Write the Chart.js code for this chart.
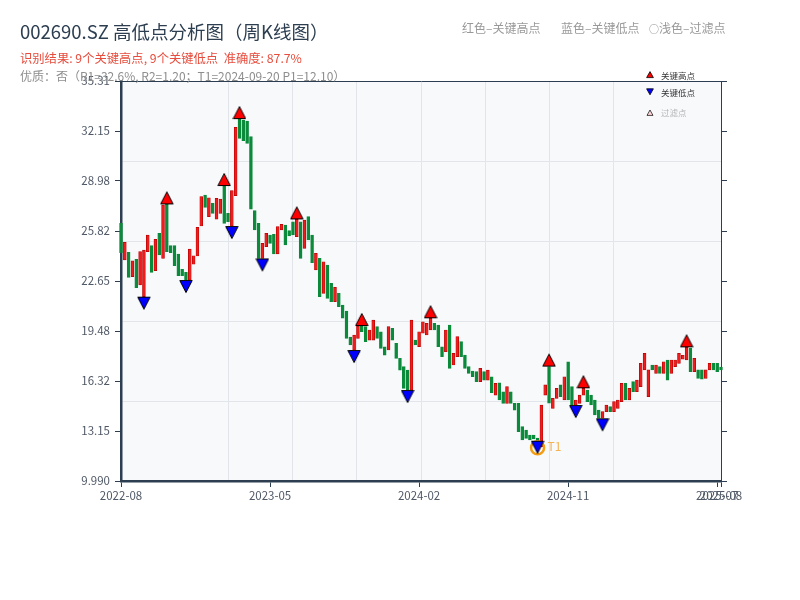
<!DOCTYPE html>
<html><head><meta charset="utf-8">
<script src="https://cdn.jsdelivr.net/npm/chart.js@4.4.1/dist/chart.umd.min.js"></script>
<style>
html,body{margin:0;padding:0;background:#fff;}
#wrap{position:relative;width:800px;height:600px;font-family:"Noto Sans CJK SC","Noto Sans",sans-serif;}
#c{position:absolute;left:0;top:0;}
.t{position:absolute;white-space:pre;line-height:1;}
.lg svg{position:absolute;}
</style></head><body>
<div id="wrap">
<canvas id="c" width="800" height="600"></canvas>
<div class="t" style="left:20px;top:22px;font-size:18.5px;color:#2c3e50">002690.SZ 高低点分析图（周K线图）</div>
<div class="t" style="left:20px;top:52px;font-size:12.3px;color:#e74c3c">识别结果: 9个关键高点, 9个关键低点  准确度: 87.7%</div>
<div class="t" style="left:20px;top:70px;font-size:12px;color:#8e8e8e">优质：否（R1=32.6%, R2=1.20；T1=2024-09-20 P1=12.10）</div>
<div class="t" style="left:462px;top:22px;font-size:12px;color:#999">红色–关键高点</div>
<div class="t" style="left:561px;top:22px;font-size:12px;color:#999">蓝色–关键低点</div>
<div class="t" style="left:649px;top:22px;font-size:12px;color:#999"><span style="font-size:10px">○</span>浅色–过滤点</div>
<div class="lg">
<svg style="left:646px;top:71px" width="8" height="8"><polygon points="4,0.6 7.4,6.6 0.6,6.6" fill="#ff0000" stroke="#000" stroke-width="0.8"/></svg>
<svg style="left:646px;top:88px" width="8" height="8"><polygon points="0.6,0.8 7.4,0.8 4,6.8" fill="#0000ff" stroke="#000" stroke-width="0.8"/></svg>
<svg style="left:646px;top:108.5px" width="8" height="8"><polygon points="4,1 7,6.4 1,6.4" fill="#ffd6d6" stroke="#000" stroke-width="0.7"/></svg>
</div>
<div class="t" style="left:661px;top:70.5px;font-size:8.5px;color:#333">关键高点</div>
<div class="t" style="left:661px;top:88px;font-size:8.5px;color:#333">关键低点</div>
<div class="t" style="left:661px;top:107.5px;font-size:8.5px;color:#b5b5b5">过滤点</div>
</div>
<script>
// ---- data ----
const opens = [
26.30, 23.98, 24.46, 22.92, 24.02, 22.40, 21.66, 24.51, 24.89, 23.30,
25.67, 24.08, 27.50, 24.89, 24.89, 24.36, 23.39, 23.20, 22.71, 23.71,
24.23, 26.13, 28.09, 26.72, 27.57, 26.57, 26.93, 28.66, 26.93, 26.13,
28.05, 32.90, 32.84, 32.78, 31.79, 27.10, 26.30, 24.08, 24.82, 25.56,
25.60, 24.36, 25.88, 26.19, 25.84, 26.40, 25.46, 26.40, 24.72, 26.72,
25.56, 23.35, 24.08, 21.87, 23.66, 22.50, 21.34, 21.87, 21.13, 20.75,
19.10, 18.28, 19.02, 19.80, 19.76, 18.91, 18.91, 19.76, 19.44, 18.49,
18.28, 19.65, 18.70, 17.75, 17.23, 17.01, 15.75, 18.91, 18.49, 19.34,
19.23, 19.55, 19.97, 19.86, 18.49, 18.17, 19.86, 17.33, 17.86, 18.81,
17.96, 17.23, 16.95, 16.91, 16.28, 16.91, 16.38, 16.59, 15.43, 16.21,
15.64, 14.90, 15.64, 14.90, 14.91, 13.43, 13.22, 12.90, 12.90, 12.70,
12.16, 15.43, 17.23, 14.59, 15.22, 16.07, 15.12, 17.54, 15.96, 14.80,
14.90, 15.43, 15.75, 15.43, 15.12, 14.48, 13.96, 14.38, 14.70, 14.38,
14.59, 15.01, 16.17, 15.12, 16.28, 15.64, 15.96, 17.02, 15.33, 17.33,
16.80, 17.23, 16.80, 17.65, 16.80, 17.23, 17.44, 17.70, 17.65, 18.39,
16.91, 17.02, 17.02, 16.49, 17.02, 17.44, 17.44, 17.20
];
const closes = [
24.44, 25.10, 22.88, 23.92, 22.23, 24.51, 24.61, 25.56, 23.20, 25.29,
24.30, 27.46, 24.51, 24.44, 23.62, 22.99, 22.99, 22.71, 24.67, 24.25,
26.05, 28.00, 27.31, 27.92, 26.93, 27.88, 27.84, 26.30, 26.40, 28.37,
32.38, 31.68, 31.53, 31.36, 27.19, 25.88, 24.08, 25.03, 25.67, 25.03,
24.36, 26.09, 26.24, 24.93, 25.50, 25.56, 26.55, 24.08, 26.51, 25.25,
23.81, 24.40, 21.66, 23.87, 21.55, 21.34, 22.25, 21.02, 20.29, 19.02,
18.60, 19.23, 19.80, 19.44, 18.81, 19.55, 20.18, 19.02, 18.38, 17.96,
19.76, 18.91, 17.75, 17.01, 15.85, 15.75, 20.18, 18.60, 19.44, 20.07,
19.97, 20.29, 19.55, 18.49, 17.86, 19.55, 17.12, 18.07, 19.13, 17.86,
17.12, 16.80, 16.60, 16.28, 17.12, 16.38, 17.01, 15.58, 16.17, 15.12,
14.90, 15.96, 14.90, 14.48, 13.11, 12.59, 12.69, 12.59, 12.65, 12.54,
14.80, 16.07, 14.91, 15.22, 15.86, 15.33, 16.59, 15.12, 14.80, 15.12,
15.43, 15.86, 15.01, 14.80, 14.17, 13.96, 14.38, 14.80, 14.38, 15.01,
15.12, 16.17, 15.12, 15.86, 15.64, 16.38, 17.44, 18.07, 17.02, 17.02,
17.33, 16.80, 17.54, 16.38, 17.65, 17.65, 18.07, 17.95, 18.45, 16.91,
17.75, 16.49, 16.43, 17.02, 17.44, 17.02, 16.91, 17.02
];
const highIdx = [12, 27, 31, 46, 63, 81, 112, 121, 148];
const lowIdx  = [6, 17, 29, 37, 61, 75, 109, 119, 126];
const t1Idx = 109;
const p1 = 12.10;
const xTickIdx = [0, 39, 78, 117, 156, 157];
const xTickLabels = ['2022-08', '2023-05', '2024-02', '2024-11', '2025-07', '2025-08'];
const yTickValues = [9.99, 13.155, 16.32, 19.485, 22.65, 25.815, 28.98, 32.145, 35.31];
const yTickLabels = ['9.990', '13.15', '16.32', '19.48', '22.65', '25.82', '28.98', '32.15', '35.31'];

// ---- styles ----
const AX = '#2c3e50';
const UP_FILL = '#ee1c1c', UP_EDGE = '#b80000';
const DN_FILL = '#0a8a3a', DN_EDGE = '#0a8a3a';
const FONT = '"Noto Sans CJK SC", sans-serif';
const GRID = '#e2e6eb';

function mkTri(fill, up) {
  const c = document.createElement('canvas');
  c.width = 14; c.height = 30;
  const g = c.getContext('2d');
  g.beginPath();
  if (up) { g.moveTo(7, 2.5); g.lineTo(13.2, 14.5); g.lineTo(0.8, 14.5); }
  else { g.moveTo(0.8, 15.5); g.lineTo(13.2, 15.5); g.lineTo(7, 27.5); }
  g.closePath();
  g.fillStyle = fill; g.fill();
  g.lineWidth = 1; g.strokeStyle = '#000'; g.stroke();
  return c;
}
const upImg = mkTri('#ff0000', true);
const dnImg = mkTri('#0000ff', false);

const candleData = opens.map((o, i) => ({ x: i, y: [o, closes[i]] }));
const isUp = opens.map((o, i) => closes[i] >= o);

const bgPlugin = {
  id: 'bg',
  beforeDraw(chart) {
    const a = chart.chartArea, g = chart.ctx;
    g.save(); g.fillStyle = '#f7f9fb';
    g.fillRect(a.left, a.top, a.right - a.left, a.bottom - a.top);
    g.restore();
  },
  afterDatasetsDraw(chart) {
    const meta = chart.getDatasetMeta(3);
    const pt = meta.data[0];
    if (!pt) return;
    const g = chart.ctx;
    g.save();
    g.font = '12px ' + FONT;
    g.fillStyle = '#f6b352';
    g.textBaseline = 'middle';
    g.fillText('T1', pt.x + 10, pt.y - 1);
    g.restore();
  }
};

new Chart(document.getElementById('c'), {
  type: 'bar',
  data: {
    datasets: [
      {
        type: 'bar', label: 'K', data: candleData,
        backgroundColor: isUp.map(u => u ? UP_FILL : DN_FILL),
        borderColor: isUp.map(u => u ? UP_EDGE : DN_EDGE),
        borderWidth: 0.7, borderSkipped: false,
        barThickness: 2.9, minBarLength: 1.5, order: 3, clip: false
      },
      {
        type: 'scatter', label: '关键高点',
        data: highIdx.map(i => ({ x: i, y: Math.max(opens[i], closes[i]) })),
        pointStyle: upImg, pointRadius: 7, order: 1
      },
      {
        type: 'scatter', label: '关键低点',
        data: lowIdx.map(i => ({ x: i, y: Math.min(opens[i], closes[i]) })),
        pointStyle: dnImg, pointRadius: 7, order: 1
      },
      {
        type: 'scatter', label: 'T1',
        data: [{ x: t1Idx, y: p1 }],
        pointStyle: 'circle', pointRadius: 6.5, borderWidth: 2.5,
        borderColor: '#f39c12', backgroundColor: 'rgba(0,0,0,0)', order: 2
      }
    ]
  },
  options: {
    responsive: false, animation: false,
    layout: { padding: { left: 0, right: 79, top: 81, bottom: 0 } },
    plugins: { legend: { display: false }, tooltip: { enabled: false }, title: { display: false } },
    scales: {
      x: {
        type: 'linear', position: 'bottom', min: 0, max: 157, offset: false,
        afterBuildTicks: s => { s.ticks = xTickIdx.map(v => ({ value: v })); },
        afterFit: s => { s.height = 119; },
        ticks: { autoSkip: false, maxRotation: 0, color: '#4f5866', padding: 2,
                 font: { size: 11.5, family: FONT },
                 callback: (v, i) => xTickLabels[i] },
        grid: { display: true, offset: false, drawOnChartArea: false, drawTicks: true, tickLength: 6, tickColor: AX, tickWidth: 1, color: AX },
        border: { display: true, color: AX, width: 2.5 }
      },
      y: {
        type: 'linear', position: 'left', min: 9.99, max: 35.31,
        afterBuildTicks: s => { s.ticks = yTickValues.map(v => ({ value: v })); },
        afterFit: s => { s.width = 121; },
        ticks: { color: '#4f5866', padding: 5,
                 font: { size: 11.5, family: FONT },
                 callback: (v, i) => yTickLabels[i] },
        grid: { display: true, offset: false, drawOnChartArea: false, drawTicks: true, tickLength: 6, tickColor: AX, tickWidth: 1, color: AX },
        border: { display: true, color: AX, width: 2.5 }
      },
      yR: {
        type: 'linear', position: 'right', min: 9.99, max: 35.31,
        afterBuildTicks: s => { s.ticks = yTickValues.map(v => ({ value: v })); },
        afterFit: s => { s.width = 0; },
        ticks: { display: false },
        grid: { display: true, offset: false, drawOnChartArea: false, drawTicks: true, tickLength: 6, tickColor: AX, tickWidth: 1, color: AX },
        border: { display: true, color: AX, width: 1 }
      },
      gx: {
        type: 'linear', position: 'top', min: 0, max: 8,
        afterBuildTicks: s => { s.ticks = [1, 2, 3, 4, 5, 6, 7].map(v => ({ value: v })); },
        afterFit: s => { s.height = 0; },
        ticks: { display: false },
        grid: { display: true, offset: false, drawOnChartArea: true, drawTicks: false, color: GRID, lineWidth: 1 },
        border: { display: true, color: AX, width: 1 }
      },
      gy: {
        type: 'linear', position: 'right', min: 0, max: 5,
        afterBuildTicks: s => { s.ticks = [1, 2, 3, 4].map(v => ({ value: v })); },
        afterFit: s => { s.width = 0; },
        ticks: { display: false },
        grid: { display: true, offset: false, drawOnChartArea: true, drawTicks: false, color: GRID, lineWidth: 1 },
        border: { display: false, color: 'rgba(0,0,0,0)' }
      }
    }
  },
  plugins: [bgPlugin]
});
</script>
</body></html>
